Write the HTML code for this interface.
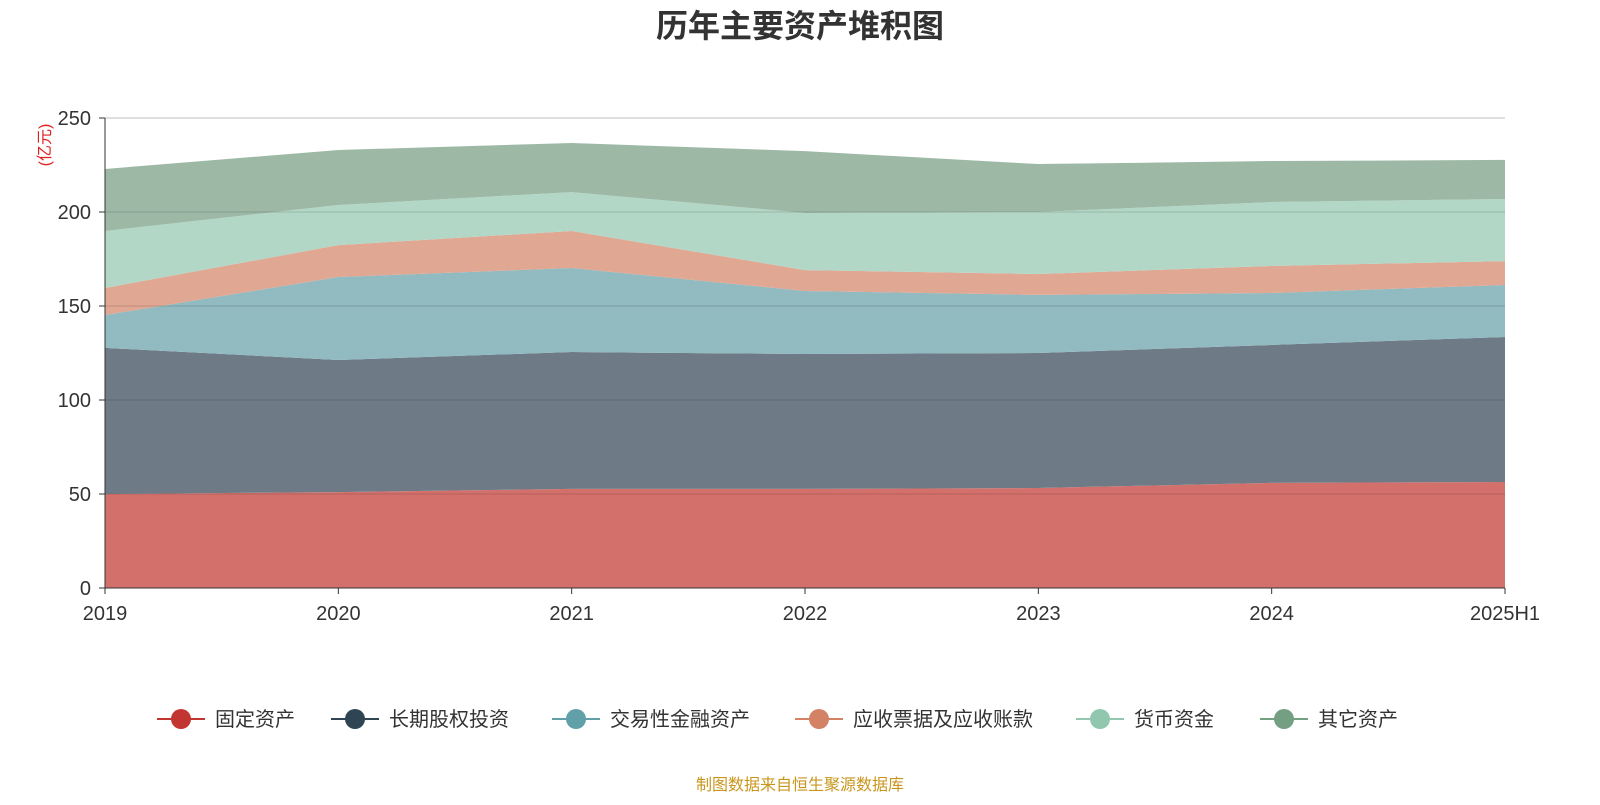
<!DOCTYPE html>
<html><head><meta charset="utf-8"><style>
body{margin:0;background:#fff;font-family:"Liberation Sans","Noto Sans CJK SC",sans-serif}
</style></head><body>
<svg id="chart" width="1600" height="800" xmlns="http://www.w3.org/2000/svg" font-family="Liberation Sans, Noto Sans CJK SC, sans-serif">
<text x="800" y="37" text-anchor="middle" font-size="32" font-weight="bold" fill="#333">历年主要资产堆积图</text>
<text transform="translate(50,145) rotate(-90)" text-anchor="middle" font-size="16" fill="#e02020">(亿元)</text>
<g id="grid"></g><g id="areas"></g><g id="axes"></g><g id="legend"></g>
<text x="800" y="790" text-anchor="middle" font-size="16" fill="#c8961e">制图数据来自恒生聚源数据库</text>
</svg>
<script>
const categories=["2019","2020","2021","2022","2023","2024","2025H1"];
const seriesNames=["固定资产","长期股权投资","交易性金融资产","应收票据及应收账款","货币资金","其它资产"];
const fixedAssets=[50,51,52.7,52.7,53.2,55.9,56.4];
const equityInvest=[77.7,70.3,72.8,71.8,71.8,73.4,77.1];
const tradingAssets=[17.5,44.1,44.7,33.5,30.9,27.6,27.7];
const receivables=[14.4,17,19.7,11.1,11.1,14.4,12.7];
const cash=[30.3,21.3,20.7,30.4,33,34,33];
const otherAssets=[33,29.3,26.1,32.9,25.5,21.8,20.8];
const yTicks=[0,50,100,150,200,250];
const series=[fixedAssets,equityInvest,tradingAssets,receivables,cash,otherAssets];
const fills=["#d4706c","#6e7b86","#91bac1","#e0a793","#b2d7c6","#9db9a6"];
const dots=["#c23531","#2f4554","#61a0a8","#d48265","#91c7ae","#749f83"];
const slugs=["fixed-assets","long-term-equity","trading-assets","receivables","cash","other-assets"];
const NS="http://www.w3.org/2000/svg";
const x0=105,x1=1505,yb=588,yt=118,ymax=250;
const xs=i=>x0+(x1-x0)*i/(categories.length-1);
const ys=v=>yb-(yb-yt)*v/ymax;
function mk(t,a,p){const e=document.createElementNS(NS,t);for(const k in a)e.setAttribute(k,a[k]);p.appendChild(e);return e;}
const grid=document.getElementById('grid'),areas=document.getElementById('areas'),axes=document.getElementById('axes'),legend=document.getElementById('legend');
let base=categories.map(()=>0);
series.forEach((s,k)=>{
 const top=base.map((b,i)=>b+s[i]);
 let d="M"+categories.map((c,i)=>xs(i)+","+ys(top[i])).join("L");
 for(let i=categories.length-1;i>=0;i--)d+="L"+xs(i)+","+ys(base[i]);
 const p=mk('path',{d:d+"Z",fill:fills[k]},areas);
 
 
 base=top;
});
yTicks.forEach(v=>{
 if(v>0){const l=mk('line',{x1:x0,x2:x1,y1:ys(v),y2:ys(v),stroke:"#000","stroke-opacity":v==250?0.25:0.15},areas);
 
 }
 const t=mk('text',{x:x0-14,y:ys(v)+7,"text-anchor":"end","font-size":"20",fill:"#333"},axes);t.textContent=v;
 
 
 const tk=mk('line',{x1:x0-6,x2:x0,y1:ys(v),y2:ys(v),stroke:"#333"},axes);
 
 
});
const ya=mk('line',{x1:x0,x2:x0,y1:yt,y2:yb,stroke:"#333"},axes);


const xa=mk('line',{x1:x0,x2:x1,y1:yb,y2:yb,stroke:"#333"},axes);


categories.forEach((c,i)=>{
 const tk=mk('line',{x1:xs(i),x2:xs(i),y1:yb,y2:yb+6,stroke:"#333"},axes);
 
 
 const t=mk('text',{x:xs(i),y:620,"text-anchor":"middle","font-size":"20",fill:"#333"},axes);t.textContent=c;
 
 
});
const lx=[157,331,552,795,1076,1260];
seriesNames.forEach((n,k)=>{
 const g=mk('g',{},legend);
 
 
 mk('line',{x1:lx[k],x2:lx[k]+48,y1:719,y2:719,stroke:dots[k],"stroke-width":2},g);
 mk('circle',{cx:lx[k]+24,cy:719,r:10,fill:dots[k]},g);
 const t=mk('text',{x:lx[k]+58,y:726,"font-size":"20",fill:"#333"},g);t.textContent=n;
});
</script>
</body></html>
